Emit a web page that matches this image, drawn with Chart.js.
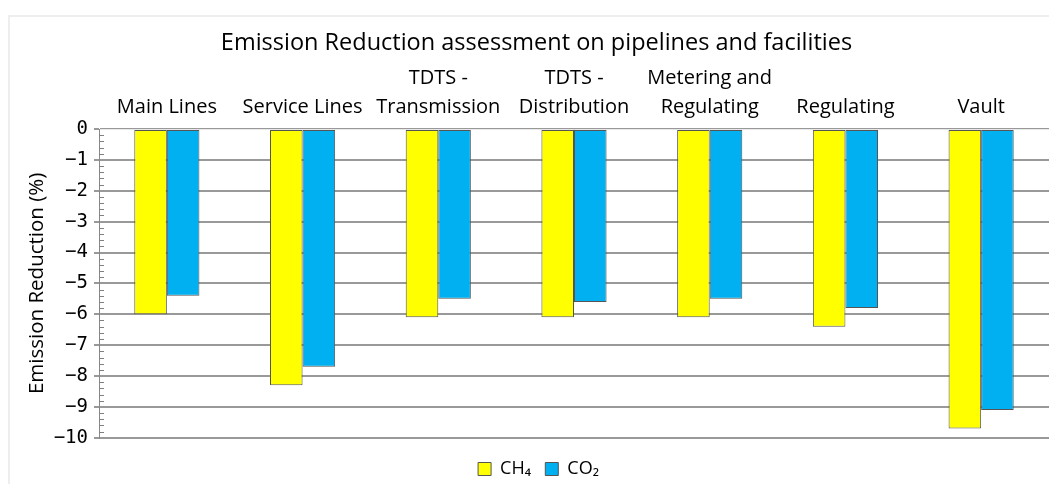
<!DOCTYPE html>
<html>
<head>
<meta charset="utf-8">
<script src="https://cdn.jsdelivr.net/npm/chart.js@4"></script>
<style>
  html, body { margin: 0; padding: 0; background: #fff; }
  #wrap { position: relative; width: 1049px; height: 484px; }
  #frame { position: absolute; left: 8px; top: 15px; width: 1041px; height: 469px;
           border-top: 2px solid #eeeeee; border-left: 2px solid #eeeeee; box-sizing: border-box; }
  canvas { position: absolute; left: 0; top: 0; }
</style>
</head>
<body>
<div id="wrap">
  <div id="frame"></div>
  <canvas id="myChart" width="1049" height="484"></canvas>
</div>
<script>
const categories = [
    'Main Lines',
    'Service Lines',
    ['TDTS -', 'Transmission'],
    ['TDTS -', 'Distribution'],
    ['Metering and', 'Regulating'],
    'Regulating',
    'Vault'
];
const ch4 = [-6.0, -8.3, -6.1, -6.1, -6.1, -6.4, -9.7];
const co2 = [-5.4, -7.7, -5.5, -5.6, -5.5, -5.8, -9.1];
const yTicks = [0, -1, -2, -3, -4, -5, -6, -7, -8, -9, -10];

const FONT = '"Open Sans", Lato, sans-serif';

// small ticks every 0.2 on the value axis
const minorTicks = {
    id: 'minorTicks',
    afterDatasetsDraw(chart) {
        const y = chart.scales.y;
        const ctx = chart.ctx;
        const x0 = chart.chartArea.left;
        ctx.save();
        ctx.strokeStyle = '#808080';
        ctx.lineWidth = 1;
        for (let i = 0; i <= 50; i++) {
            if (i % 5 === 0) continue;
            const py = Math.round(y.getPixelForValue(-i / 5)) + 0.5;
            ctx.beginPath();
            ctx.moveTo(x0, py);
            ctx.lineTo(x0 + 5, py);
            ctx.stroke();
        }
        ctx.restore();
    }
};

// nudge title and legend a bit right (they are centred on the page in the original)
const nudge = {
    id: 'nudge',
    afterLayout(chart) {
        if (chart.titleBlock) {
            chart.titleBlock.left += 9;
            chart.titleBlock.right += 9;
        }
        if (chart.legend) {
            chart.legend.left += 11;
            chart.legend.right += 11;
            chart.legend.top += 2;
            chart.legend.bottom += 2;
        }
    }
};

window.onload = function () {
    new Chart(document.getElementById('myChart'), {
        type: 'bar',
        data: {
            labels: categories,
            datasets: [{
                label: 'CH\u2084  ',
                data: ch4,
                backgroundColor: '#ffff00',
                borderColor: '#555555',
                borderWidth: 1,
                borderSkipped: false
            }, {
                label: 'CO\u2082',
                data: co2,
                backgroundColor: '#00b0f0',
                borderColor: '#555555',
                borderWidth: 1,
                borderSkipped: false
            }]
        },
        plugins: [minorTicks, nudge],
        options: {
            responsive: false,
            animation: false,
            layout: { padding: { left: 6, right: 0, top: 0, bottom: -2 } },
            datasets: {
                bar: { categoryPercentage: 0.48, barPercentage: 1 }
            },
            scales: {
                x: {
                    position: 'top',
                    afterFit: function (scale) { scale.height = 71.8; },
                    grid: { display: false, drawTicks: false },
                    border: { color: '#e8e8e8', width: 1 },
                    ticks: {
                        color: '#000',
                        padding: 7,
                        maxRotation: 0,
                        font: { family: FONT, size: 20, lineHeight: 1.45 }
                    }
                },
                y: {
                    min: -10,
                    max: 0,
                    afterFit: function (scale) { scale.width = 93; },
                    afterBuildTicks: function (axis) {
                        axis.ticks = yTicks.map(v => ({ value: v }));
                    },
                    grid: { color: '#999999', lineWidth: 2, tickLength: 5 },
                    border: { color: '#888888', width: 1 },
                    ticks: {
                        color: '#000',
                        padding: 6,
                        font: { family: '"DejaVu Sans Mono", monospace', size: 19 },
                        callback: function (v) {
                            return v < 0 ? '\u2212' + Math.abs(v) : String(v);
                        }
                    },
                    title: {
                        display: true,
                        text: 'Emission Reduction (%)',
                        color: '#000',
                        padding: { top: 19, bottom: 0 },
                        font: { family: FONT, size: 20.5 }
                    }
                }
            },
            plugins: {
                title: {
                    display: true,
                    text: 'Emission Reduction assessment on pipelines and facilities',
                    color: '#000',
                    padding: { top: 29, bottom: 0 },
                    font: { family: FONT, size: 23.5, weight: 'normal' }
                },
                legend: {
                    position: 'bottom',
                    title: {
                        display: true,
                        text: ' ',
                        padding: { top: 14, bottom: 0 },
                        font: { size: 1 }
                    },
                    labels: {
                        boxWidth: 13,
                        boxHeight: 13,
                        color: '#000',
                        padding: 5,
                        font: { family: FONT, size: 18 }
                    }
                },
                tooltip: { enabled: false }
            }
        }
    });
};
</script>
</body>
</html>
